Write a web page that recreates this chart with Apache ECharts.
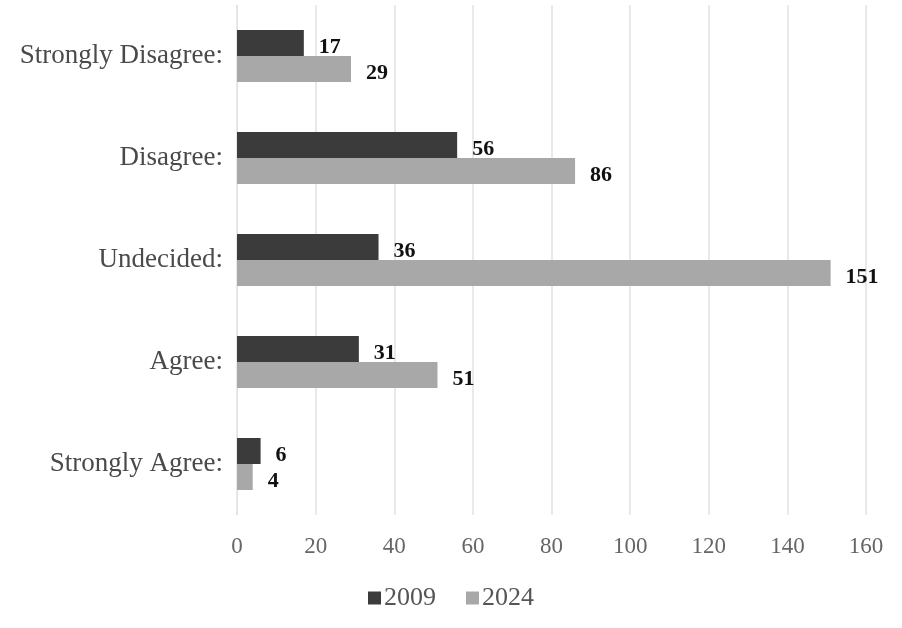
<!DOCTYPE html>
<html><head><meta charset="utf-8">
<script src="https://cdn.jsdelivr.net/npm/echarts@6/dist/echarts.min.js"></script>
<style>html,body{margin:0;padding:0;background:#fff}#c{width:902px;height:628px}</style>
</head><body><div id="c"></div>
<script>
const categories = ['Strongly Disagree:', 'Disagree:', 'Undecided:', 'Agree:', 'Strongly Agree:'];
const values2009 = [17, 56, 36, 31, 6];
const values2024 = [29, 86, 151, 51, 4];
const xTicks = [0, 20, 40, 60, 80, 100, 120, 140, 160];

const font = '"Liberation Serif", "Times New Roman", serif';
const chart = echarts.init(document.getElementById('c'));
const lbl = {show: true, position: 'right', distance: 15, offset: [0, 4], color: '#111', fontWeight: 'bold', fontSize: 22, fontFamily: font};
chart.setOption({
  animation: false,
  backgroundColor: '#fff',
  textStyle: {fontFamily: font},
  grid: {left: 237, right: 36, top: 5, bottom: 113, containLabel: false},
  legend: {
    data: ['2009', '2024'], bottom: 12, left: 'center', itemWidth: 13, itemHeight: 13, itemGap: 30,
    icon: 'rect', textStyle: {color: '#555', fontSize: 26, fontFamily: font, padding: [0, 0, 0, -2]}
  },
  xAxis: {
    type: 'value', min: xTicks[0], max: xTicks[xTicks.length - 1], interval: 20,
    axisLine: {show: false}, axisTick: {show: false},
    splitLine: {show: true, lineStyle: {color: '#e2e2e2', width: 1.5}},
    axisLabel: {color: '#666', fontSize: 23, fontFamily: font, margin: 20}
  },
  yAxis: {
    type: 'category', data: categories, inverse: true,
    axisLine: {show: true, lineStyle: {color: '#e2e2e2'}}, axisTick: {show: false},
    axisLabel: {color: '#4a4a4a', fontSize: 27, fontFamily: font, margin: 14}
  },
  series: [
    {name: '2009', type: 'bar', data: values2009, barGap: '0%', barCategoryGap: '49%',
     itemStyle: {color: '#3b3b3b'}, label: lbl},
    {name: '2024', type: 'bar', data: values2024, barGap: '0%', barCategoryGap: '49%',
     itemStyle: {color: '#a8a8a8'}, label: lbl}
  ]
});
</script></body></html>
